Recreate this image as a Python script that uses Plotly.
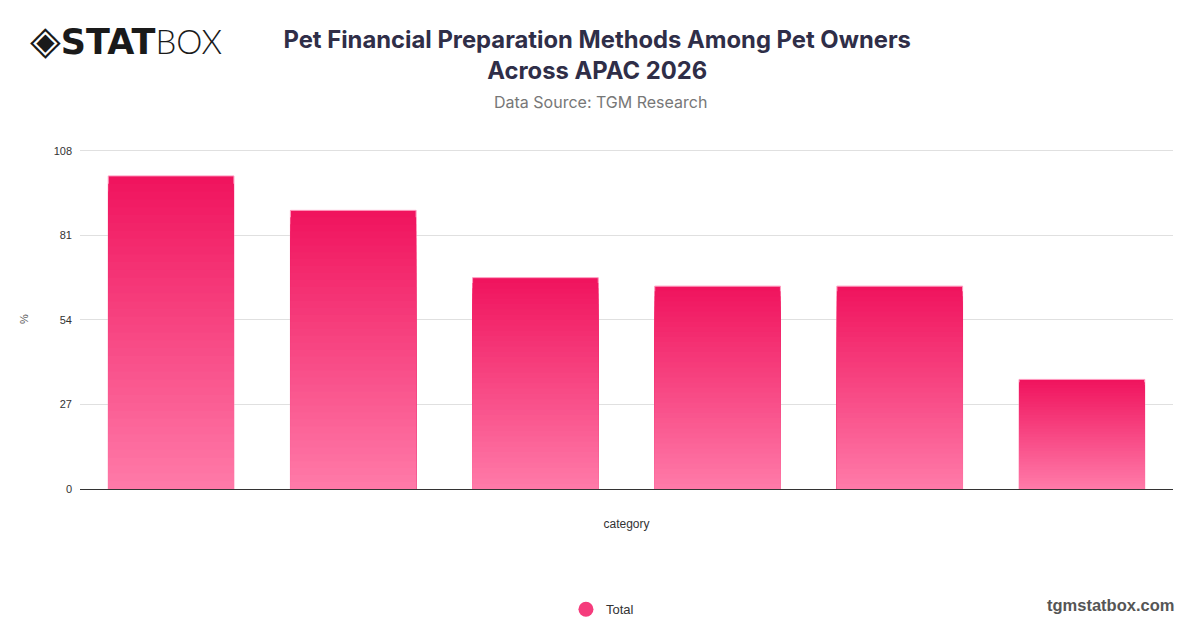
import plotly.graph_objects as go

categories = ["Cat 1", "Cat 2", "Cat 3", "Cat 4", "Cat 5", "Cat 6"]
values = [100, 89, 67.5, 64.8, 64.8, 35]
y_ticks = [0, 27, 54, 81, 108]

top_rgb = (240, 20, 94)
bottom_rgb = (255, 124, 170)
layers = 40


def mix(t):
    r = round(bottom_rgb[0] + (top_rgb[0] - bottom_rgb[0]) * t)
    g = round(bottom_rgb[1] + (top_rgb[1] - bottom_rgb[1]) * t)
    b = round(bottom_rgb[2] + (top_rgb[2] - bottom_rgb[2]) * t)
    return f"rgb({r},{g},{b})"


fig = go.Figure()

# gradient fill: overlaid copies of the same bars, each one a bit shorter and lighter
for k in range(layers):
    frac = (layers - k) / layers
    fig.add_trace(go.Bar(
        x=categories, y=[v * frac for v in values],
        marker=dict(color=mix(frac),
                    line=dict(color="#ff9cc0" if k == 0 else mix(frac), width=1 if k == 0 else 0)),
        showlegend=False,
        hoverinfo="skip" if k else None,
        name="Total",
    ))

fig.add_trace(go.Scatter(
    x=[None], y=[None], mode="markers", name="Total",
    marker=dict(symbol="circle", size=15, color="#f53c7c"),
))

# page body has an 8px margin, so the margins are shifted by that amount
fig.update_layout(
    width=1200, height=628,
    barmode="overlay", bargap=0.31,
    plot_bgcolor="white", paper_bgcolor="white",
    font=dict(family="Liberation Sans, Arial, sans-serif", color="#333333"),
    margin=dict(l=72, r=35, t=141, b=144),
    title=dict(
        text="<b>Pet Financial Preparation Methods Among Pet Owners<br>Across APAC 2026</b>",
        x=0.491, xanchor="center", y=0.936, yanchor="top",
        font=dict(family="Inter, Roboto, sans-serif", size=23.8, color="#2f2e48"),
    ),
    legend=dict(orientation="h", x=0.478, xanchor="center", y=-0.354, yanchor="middle",
                font=dict(size=13, color="#333333")),
    showlegend=True,
)

fig.update_xaxes(
    showticklabels=False, showgrid=False,
    showline=True, linecolor="#333333", linewidth=1,
    title=dict(text="category", font=dict(size=12, color="#333333"), standoff=30),
)
fig.update_yaxes(
    range=[0, 108.6], tickvals=y_ticks, ticktext=[str(t) for t in y_ticks],
    showgrid=True, gridcolor="#e0e0e0", gridwidth=1,
    zeroline=False, ticks="", ticklabelstandoff=7,
    tickfont=dict(size=11, color="#333333"),
    title=dict(text="%", font=dict(size=11, color="#555555"), standoff=22),
)

fig.add_annotation(
    text='<span style="font-family:DejaVu Sans;font-size:40px">◈</span>'
         '<span style="font-family:DejaVu Sans;font-weight:bold">STAT</span>'
         '<span style="font-family:Lato;font-weight:300;font-size:33px">BOX</span>',
    xref="paper", yref="paper",
    x=-0.048, y=1.322, xanchor="left", yanchor="middle", showarrow=False,
    font=dict(family="DejaVu Sans, sans-serif", size=35, color="#1a1a1a"),
)
fig.add_annotation(
    text="Data Source: TGM Research", xref="paper", yref="paper",
    x=0.476, y=1.138, xanchor="center", yanchor="middle", showarrow=False,
    font=dict(family="Inter, Roboto, sans-serif", size=16, color="#777777"),
)
fig.add_annotation(
    text="<b>tgmstatbox.com</b>", xref="paper", yref="paper",
    x=1.0027, y=-0.340, xanchor="right", yanchor="middle", showarrow=False,
    font=dict(family="Liberation Sans, Arial, sans-serif", size=16.5, color="#555555"),
)

fig.write_html("out.html")
